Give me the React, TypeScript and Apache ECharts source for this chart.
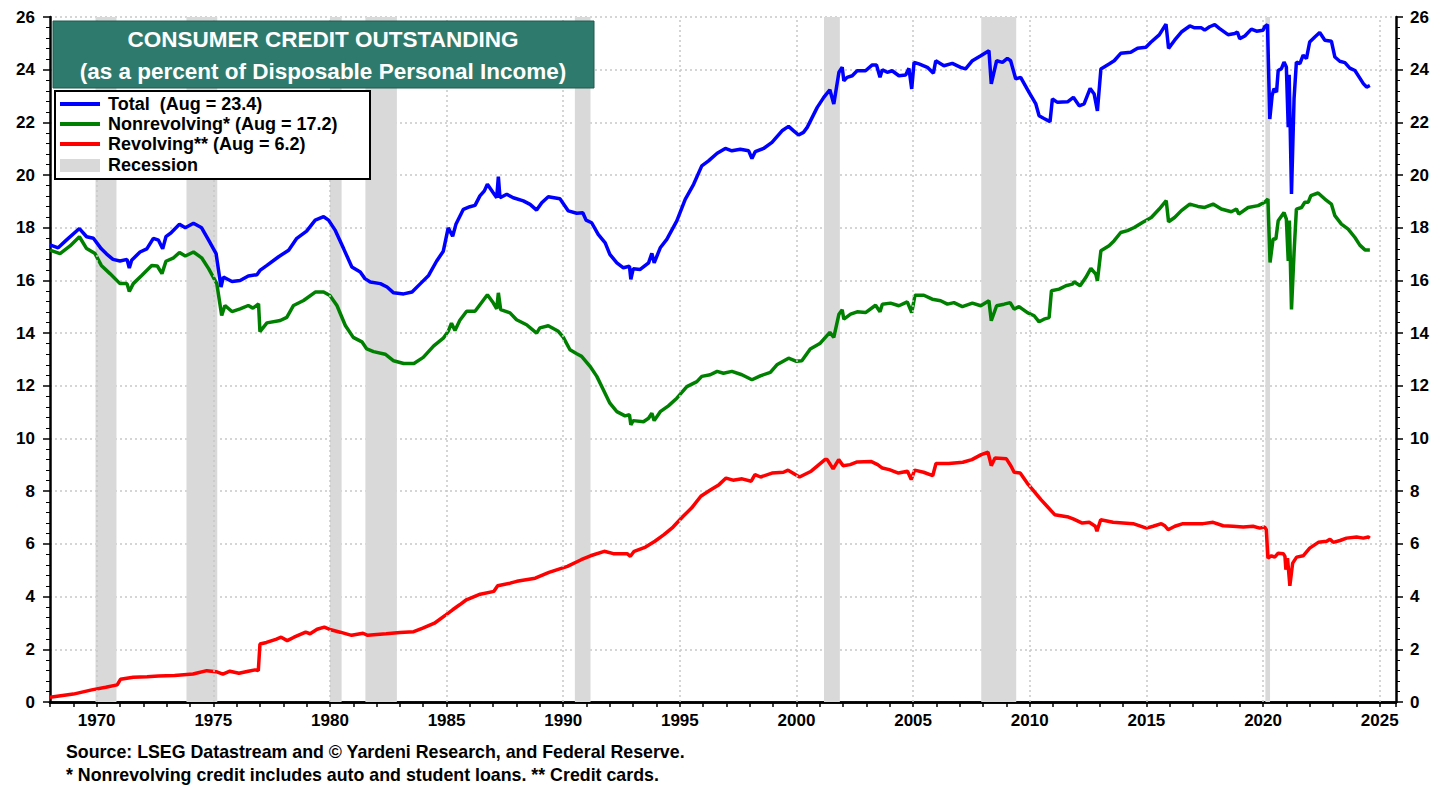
import React, { useEffect, useRef } from "react";
import * as echarts from "echarts";

// ---- Data (year as decimal, percent of disposable personal income) ----
const TOTAL: [number, number][] = [
  [1968.0,17.35],[1968.35,17.24],[1968.7,17.53],[1969.26,17.97],[1969.57,17.66],[1969.86,17.6],[1970.2,17.2],[1970.43,17.0],[1970.7,16.8],[1971.0,16.74],[1971.3,16.8],[1971.4,16.47],[1971.5,16.77],[1971.86,17.08],[1972.15,17.2],[1972.43,17.6],[1972.65,17.53],[1972.83,17.2],[1972.97,17.66],[1973.2,17.82],[1973.55,18.13],[1973.8,18.0],[1974.15,18.17],[1974.5,18.0],[1974.8,17.53],[1975.12,17.02],[1975.33,15.75],[1975.43,16.13],[1975.8,15.96],[1976.15,16.0],[1976.5,16.17],[1976.87,16.22],[1977.0,16.38],[1977.3,16.57],[1977.8,16.9],[1978.23,17.15],[1978.58,17.6],[1979.0,17.87],[1979.37,18.29],[1979.73,18.42],[1979.94,18.29],[1980.23,17.9],[1980.59,17.2],[1980.94,16.51],[1981.3,16.32],[1981.5,16.07],[1981.73,15.94],[1982.16,15.88],[1982.45,15.75],[1982.73,15.53],[1983.16,15.49],[1983.52,15.56],[1983.88,15.88],[1984.23,16.19],[1984.57,16.73],[1984.86,17.11],[1985.07,18.0],[1985.26,17.68],[1985.4,18.13],[1985.72,18.7],[1986.0,18.8],[1986.22,18.85],[1986.43,19.21],[1986.62,19.4],[1986.75,19.65],[1987.0,19.33],[1987.15,19.14],[1987.22,19.94],[1987.29,19.14],[1987.58,19.27],[1987.86,19.14],[1988.29,19.02],[1988.58,18.89],[1988.86,18.67],[1989.08,18.95],[1989.36,19.18],[1989.86,19.1],[1990.22,18.64],[1990.58,18.55],[1990.84,18.57],[1990.98,18.29],[1991.22,18.19],[1991.5,17.75],[1991.8,17.43],[1992.0,16.99],[1992.3,16.67],[1992.58,16.48],[1992.84,16.54],[1992.9,16.04],[1993.0,16.44],[1993.3,16.42],[1993.66,16.67],[1993.8,17.03],[1993.9,16.67],[1994.16,17.24],[1994.44,17.56],[1994.87,18.26],[1995.23,19.08],[1995.59,19.65],[1995.94,20.35],[1996.23,20.54],[1996.6,20.83],[1996.95,21.01],[1997.23,20.92],[1997.59,20.98],[1997.95,20.92],[1998.09,20.63],[1998.23,20.89],[1998.59,21.01],[1998.95,21.24],[1999.38,21.68],[1999.66,21.85],[1999.88,21.68],[2000.09,21.52],[2000.3,21.62],[2000.46,21.81],[2000.89,22.57],[2001.17,22.95],[2001.43,23.24],[2001.6,22.7],[2001.82,23.9],[2001.96,24.09],[2002.03,23.58],[2002.17,23.71],[2002.39,23.77],[2002.6,23.96],[2002.96,23.96],[2003.25,24.18],[2003.43,24.18],[2003.58,23.71],[2003.68,24.0],[2003.89,23.9],[2004.1,23.96],[2004.39,23.77],[2004.68,23.8],[2004.82,24.05],[2004.94,23.27],[2005.04,24.28],[2005.25,24.22],[2005.61,24.09],[2005.87,23.87],[2005.97,24.34],[2006.32,24.15],[2006.68,24.24],[2007.04,24.09],[2007.25,24.03],[2007.54,24.34],[2007.9,24.53],[2008.25,24.72],[2008.35,23.46],[2008.58,24.34],[2008.83,24.28],[2009.04,24.43],[2009.18,24.34],[2009.4,23.65],[2009.61,23.71],[2009.97,23.14],[2010.26,22.7],[2010.4,22.25],[2010.61,22.15],[2010.87,22.03],[2010.97,22.89],[2011.19,22.76],[2011.62,22.78],[2011.87,22.95],[2012.12,22.63],[2012.33,22.7],[2012.59,23.29],[2012.76,23.08],[2012.9,22.44],[2013.05,24.03],[2013.4,24.22],[2013.62,24.34],[2013.9,24.62],[2014.33,24.66],[2014.62,24.81],[2014.98,24.85],[2015.19,25.04],[2015.55,25.32],[2015.84,25.73],[2015.95,24.81],[2016.21,25.12],[2016.5,25.43],[2016.86,25.66],[2017.07,25.59],[2017.36,25.59],[2017.5,25.5],[2017.71,25.63],[2017.93,25.71],[2018.14,25.56],[2018.5,25.33],[2018.79,25.37],[2018.9,25.43],[2019.0,25.18],[2019.22,25.28],[2019.5,25.54],[2019.72,25.46],[2020.0,25.5],[2020.07,25.63],[2020.19,25.71],[2020.29,22.13],[2020.39,23.02],[2020.47,23.28],[2020.58,23.15],[2020.65,23.97],[2020.79,24.04],[2020.9,24.29],[2021.0,24.1],[2021.08,21.82],[2021.12,23.81],[2021.22,19.28],[2021.33,22.9],[2021.43,24.29],[2021.58,24.23],[2021.72,24.55],[2021.86,24.42],[2022.0,25.05],[2022.22,25.24],[2022.43,25.41],[2022.65,25.12],[2022.93,25.08],[2023.08,24.48],[2023.29,24.32],[2023.51,24.27],[2023.72,24.06],[2023.94,23.97],[2024.15,23.68],[2024.3,23.47],[2024.44,23.34],[2024.58,23.4]
];

const NONREVOLVING: [number, number][] = [
  [1968.0,17.15],[1968.43,17.02],[1968.86,17.31],[1969.26,17.66],[1969.57,17.21],[1969.93,17.02],[1970.2,16.57],[1970.57,16.26],[1971.0,15.88],[1971.3,15.88],[1971.4,15.58],[1971.57,15.88],[1971.93,16.19],[1972.36,16.57],[1972.6,16.55],[1972.8,16.26],[1972.97,16.73],[1973.3,16.86],[1973.55,17.06],[1973.8,16.93],[1974.15,17.08],[1974.5,16.86],[1974.8,16.45],[1975.15,15.88],[1975.36,14.67],[1975.5,15.05],[1975.8,14.82],[1976.15,14.92],[1976.5,15.05],[1976.7,14.95],[1976.94,15.11],[1977.0,14.06],[1977.3,14.39],[1977.87,14.48],[1978.15,14.6],[1978.44,15.05],[1978.87,15.24],[1979.37,15.56],[1979.73,15.56],[1980.0,15.43],[1980.3,15.05],[1980.66,14.29],[1981.0,13.84],[1981.37,13.67],[1981.58,13.4],[1981.87,13.3],[1982.37,13.2],[1982.73,12.95],[1983.16,12.85],[1983.6,12.85],[1984.0,13.08],[1984.45,13.52],[1984.86,13.81],[1985.07,14.07],[1985.21,14.38],[1985.36,14.1],[1985.57,14.49],[1985.86,14.83],[1986.22,14.83],[1986.43,15.08],[1986.75,15.46],[1987.0,15.15],[1987.15,14.92],[1987.22,15.53],[1987.32,14.89],[1987.72,14.77],[1988.0,14.51],[1988.43,14.32],[1988.86,14.0],[1989.0,14.2],[1989.36,14.28],[1989.79,14.07],[1990.0,13.85],[1990.29,13.37],[1990.58,13.22],[1990.79,13.12],[1991.15,12.74],[1991.44,12.36],[1991.72,11.85],[1992.0,11.34],[1992.3,11.02],[1992.65,10.86],[1992.84,10.9],[1992.9,10.52],[1993.0,10.68],[1993.44,10.64],[1993.66,10.77],[1993.8,10.96],[1993.9,10.68],[1994.16,11.02],[1994.51,11.24],[1994.87,11.53],[1995.3,11.97],[1995.73,12.16],[1995.94,12.36],[1996.3,12.42],[1996.6,12.55],[1996.87,12.48],[1997.23,12.55],[1997.66,12.42],[1998.09,12.23],[1998.45,12.38],[1998.88,12.51],[1999.16,12.8],[1999.66,13.05],[2000.0,12.93],[2000.23,12.95],[2000.59,13.4],[2001.02,13.62],[2001.43,14.03],[2001.6,13.84],[2001.82,14.72],[2001.96,14.89],[2002.03,14.53],[2002.32,14.72],[2002.6,14.81],[2002.96,14.78],[2003.39,15.06],[2003.58,14.81],[2003.68,15.1],[2004.03,15.14],[2004.39,15.04],[2004.75,15.19],[2004.94,14.78],[2005.08,15.44],[2005.46,15.44],[2005.82,15.29],[2006.18,15.23],[2006.47,15.1],[2006.75,15.16],[2007.11,15.01],[2007.54,15.14],[2007.9,15.04],[2008.25,15.23],[2008.35,14.47],[2008.58,15.04],[2008.9,15.1],[2009.16,15.16],[2009.33,14.91],[2009.54,15.01],[2009.9,14.78],[2010.19,14.66],[2010.4,14.43],[2010.61,14.53],[2010.83,14.59],[2010.93,15.61],[2011.26,15.67],[2011.55,15.8],[2011.83,15.86],[2011.9,15.95],[2012.16,15.8],[2012.4,16.11],[2012.62,16.46],[2012.83,16.24],[2012.9,15.99],[2013.05,17.13],[2013.4,17.32],[2013.62,17.51],[2013.9,17.82],[2014.19,17.89],[2014.48,18.01],[2014.83,18.2],[2015.21,18.39],[2015.55,18.71],[2015.85,19.03],[2015.95,18.23],[2016.21,18.39],[2016.5,18.65],[2016.86,18.9],[2017.21,18.81],[2017.5,18.77],[2017.86,18.9],[2018.21,18.71],[2018.64,18.61],[2018.86,18.71],[2018.96,18.52],[2019.36,18.77],[2019.79,18.84],[2020.07,18.97],[2020.21,19.09],[2020.3,16.68],[2020.43,17.57],[2020.55,17.57],[2020.65,18.27],[2020.9,18.58],[2021.0,18.33],[2021.08,16.74],[2021.13,18.27],[2021.22,14.9],[2021.33,17.06],[2021.43,18.71],[2021.65,18.77],[2021.79,18.97],[2021.94,18.97],[2022.05,19.22],[2022.36,19.32],[2022.65,19.09],[2022.93,18.9],[2023.08,18.46],[2023.36,18.14],[2023.65,17.95],[2023.94,17.63],[2024.15,17.34],[2024.37,17.16],[2024.58,17.16]
];

const REVOLVING: [number, number][] = [
  [1968.0,0.18],[1969.0,0.30],[1969.79,0.46],[1970.39,0.56],[1970.88,0.65],[1971.02,0.86],[1971.57,0.94],[1972.16,0.96],[1972.65,0.99],[1973.34,1.01],[1974.13,1.06],[1974.72,1.19],[1975.12,1.15],[1975.41,1.06],[1975.71,1.17],[1976.1,1.09],[1976.5,1.17],[1976.79,1.22],[1976.93,1.19],[1977.0,2.2],[1977.28,2.26],[1977.68,2.38],[1977.91,2.46],[1978.17,2.33],[1978.46,2.46],[1978.96,2.65],[1979.15,2.59],[1979.45,2.76],[1979.76,2.84],[1980.04,2.74],[1980.44,2.65],[1980.93,2.53],[1981.42,2.61],[1981.62,2.53],[1982.41,2.59],[1983.0,2.64],[1983.59,2.67],[1983.98,2.8],[1984.48,2.99],[1984.97,3.31],[1985.26,3.5],[1985.56,3.69],[1985.85,3.88],[1986.44,4.09],[1987.03,4.2],[1987.19,4.41],[1987.72,4.51],[1988.01,4.58],[1988.8,4.7],[1989.39,4.92],[1990.18,5.15],[1990.77,5.4],[1991.17,5.55],[1991.76,5.72],[1992.15,5.63],[1992.74,5.63],[1992.88,5.53],[1993.04,5.72],[1993.53,5.88],[1993.93,6.1],[1994.32,6.35],[1994.71,6.64],[1995.11,7.02],[1995.5,7.36],[1995.9,7.81],[1996.29,8.04],[1996.68,8.25],[1996.98,8.5],[1997.28,8.42],[1997.67,8.47],[1998.06,8.38],[1998.22,8.63],[1998.46,8.54],[1998.95,8.69],[1999.44,8.72],[1999.64,8.8],[2000.13,8.54],[2000.63,8.76],[2001.22,9.2],[2001.32,9.2],[2001.57,8.85],[2001.81,9.2],[2002.0,8.97],[2002.3,9.01],[2002.6,9.11],[2003.19,9.13],[2003.48,9.01],[2003.68,8.88],[2003.98,8.82],[2004.37,8.69],[2004.76,8.76],[2004.92,8.44],[2005.06,8.8],[2005.45,8.72],[2005.84,8.59],[2005.98,9.05],[2006.53,9.05],[2007.13,9.1],[2007.52,9.2],[2007.92,9.39],[2008.21,9.48],[2008.35,8.97],[2008.51,9.26],[2009.0,9.23],[2009.2,8.95],[2009.33,8.72],[2009.59,8.69],[2009.89,8.31],[2010.48,7.68],[2010.77,7.4],[2011.07,7.11],[2011.66,7.02],[2011.86,6.95],[2012.25,6.79],[2012.55,6.82],[2012.81,6.67],[2012.88,6.48],[2013.04,6.92],[2013.57,6.82],[2014.43,6.77],[2015.0,6.6],[2015.29,6.67],[2015.64,6.77],[2015.79,6.69],[2015.93,6.54],[2016.22,6.67],[2016.57,6.77],[2017.0,6.77],[2017.43,6.77],[2017.86,6.82],[2018.29,6.69],[2018.71,6.67],[2019.15,6.64],[2019.57,6.67],[2019.86,6.6],[2020.07,6.64],[2020.14,6.54],[2020.21,5.46],[2020.36,5.55],[2020.5,5.5],[2020.65,5.65],[2020.87,5.63],[2020.94,5.53],[2020.98,5.02],[2021.05,5.46],[2021.15,4.41],[2021.27,5.27],[2021.44,5.5],[2021.72,5.55],[2022.0,5.84],[2022.37,6.06],[2022.73,6.1],[2022.87,6.18],[2023.01,6.06],[2023.3,6.13],[2023.58,6.22],[2024.01,6.26],[2024.3,6.22],[2024.51,6.26],[2024.58,6.22]
];

const RECESSIONS: [number, number][] = [
  [1969.95, 1970.85], [1973.85, 1975.17], [1980.0, 1980.5], [1981.52, 1982.87],
  [1990.5, 1991.17], [2001.18, 2001.86], [2007.92, 2009.42], [2020.1, 2020.3],
];

const X_GRID_YEARS = [1970, 1975, 1980, 1985, 1990, 1995, 2000, 2005, 2010, 2015, 2020, 2025];

const TITLE_LINES = ["CONSUMER CREDIT OUTSTANDING", "(as a percent of Disposable Personal Income)"];
const LEGEND_LABELS = ["Total  (Aug = 23.4)", "Nonrevolving* (Aug = 17.2)", "Revolving** (Aug = 6.2)", "Recession"];
const FOOTNOTES = [
  "Source: LSEG Datastream and \u00A9 Yardeni Research, and Federal Reserve.",
  "* Nonrevolving credit includes auto and student loans. ** Credit cards.",
];

const FONT = "'Liberation Sans', Arial, Helvetica, sans-serif";
const COLORS = ["#0000ff", "#008000", "#ff0000"];

export default function App() {
  const ref = useRef<HTMLDivElement>(null);

  useEffect(() => {
    document.body.style.margin = "0";
    if (!ref.current) return;
    const chart = echarts.init(ref.current, undefined, { renderer: "svg" });

    const axisLabelStyle = { color: "#000", fontWeight: "bold" as const, fontSize: 17, fontFamily: FONT };
    const yCommon = {
      type: "value" as const,
      min: 0,
      max: 26,
      interval: 2,
      axisLine: { show: true, lineStyle: { color: "#000", width: 2.5 } },
      axisTick: { show: true, inside: false, length: 7, lineStyle: { color: "#000", width: 1.5 } },
      minorTick: { show: true, splitNumber: 5, length: 4, lineStyle: { color: "#000", width: 1 } },
    };

    const legendY = [104, 124, 144];
    const legendTextY = [104, 124, 144, 165];

    chart.setOption({
      animation: false,
      backgroundColor: "#fff",
      textStyle: { fontFamily: FONT },
      grid: { left: 50, right: 53, top: 17, bottom: 85, containLabel: false },
      xAxis: [
        {
          type: "value",
          min: 1968,
          max: 2025.7,
          interval: 1,
          axisLine: { show: true, lineStyle: { color: "#000", width: 2.5 } },
          axisTick: { show: true, length: 5, lineStyle: { color: "#000", width: 1.5 } },
          axisLabel: {
            ...axisLabelStyle,
            margin: 10,
            formatter: (v: number) => {
              const r = Math.round(v);
              return Math.abs(v - r) < 1e-6 && r % 5 === 0 ? String(r) : "";
            },
          },
          splitLine: { show: false },
        },
        {
          type: "value",
          position: "top",
          min: 1968,
          max: 2025.7,
          axisLine: { show: true, lineStyle: { color: "#000", width: 2.5 } },
          axisTick: { show: false },
          axisLabel: { show: false },
          splitLine: { show: false },
        },
      ],
      yAxis: [
        {
          ...yCommon,
          position: "left",
          axisLabel: { ...axisLabelStyle, margin: 15 },
          splitLine: { show: true, lineStyle: { color: "#c8c8c8", width: 1.5, type: [2, 3] } },
        },
        {
          ...yCommon,
          position: "right",
          axisLabel: { ...axisLabelStyle, margin: 14 },
          splitLine: { show: false },
        },
      ],
      series: [
        {
          name: "Recession",
          type: "line",
          data: [],
          z: 1,
          silent: true,
          markArea: {
            silent: true,
            itemStyle: { color: "#d9d9d9" },
            data: RECESSIONS.map(([a, b]) => [{ xAxis: a }, { xAxis: b }]),
          },
          markLine: {
            silent: true,
            symbol: "none",
            label: { show: false },
            lineStyle: { color: "#c8c8c8", width: 1.5, type: [2, 3] },
            data: X_GRID_YEARS.map((y) => ({ xAxis: y })),
          },
        },
        {
          name: LEGEND_LABELS[0],
          type: "line",
          data: TOTAL,
          showSymbol: false,
          z: 5,
          lineStyle: { color: COLORS[0], width: 3.5 },
          itemStyle: { color: COLORS[0] },
        },
        {
          name: LEGEND_LABELS[1],
          type: "line",
          data: NONREVOLVING,
          showSymbol: false,
          z: 4,
          lineStyle: { color: COLORS[1], width: 3.5 },
          itemStyle: { color: COLORS[1] },
        },
        {
          name: LEGEND_LABELS[2],
          type: "line",
          data: REVOLVING,
          showSymbol: false,
          z: 4,
          lineStyle: { color: COLORS[2], width: 3.5 },
          itemStyle: { color: COLORS[2] },
        },
      ],
      graphic: [
        {
          type: "rect",
          z: 100,
          shape: { x: 53, y: 21, width: 541, height: 67 },
          style: { fill: "#2e7b6d", stroke: "#1f5a4f", lineWidth: 1 },
        },
        ...TITLE_LINES.map((t, i) => ({
          type: "text",
          z: 101,
          x: 323,
          y: i === 0 ? 39 : 71,
          style: {
            text: t,
            fill: "#fff",
            font: `bold 22.5px ${FONT}`,
            align: "center",
            verticalAlign: "middle",
          },
        })),
        {
          type: "rect",
          z: 100,
          shape: { x: 55, y: 91, width: 315, height: 88 },
          style: { fill: "#fff", stroke: "#000", lineWidth: 2 },
        },
        ...legendY.map((y, i) => ({
          type: "line",
          z: 101,
          shape: { x1: 60, y1: y, x2: 100, y2: y },
          style: { stroke: COLORS[i], lineWidth: 4 },
        })),
        {
          type: "rect",
          z: 101,
          shape: { x: 60, y: 159, width: 40, height: 13 },
          style: { fill: "#d9d9d9" },
        },
        ...LEGEND_LABELS.map((t, i) => ({
          type: "text",
          z: 101,
          x: 108,
          y: legendTextY[i],
          style: {
            text: t,
            fill: "#000",
            font: `bold 18px ${FONT}`,
            align: "left",
            verticalAlign: "middle",
          },
        })),
        ...FOOTNOTES.map((t, i) => ({
          type: "text",
          z: 101,
          x: 66,
          y: i === 0 ? 752 : 775,
          style: {
            text: t,
            fill: "#000",
            font: `bold 17.8px ${FONT}`,
            align: "left",
            verticalAlign: "middle",
          },
        })),
      ],
    });

    return () => chart.dispose();
  }, []);

  return <div ref={ref} style={{ width: 1449, height: 787 }} />;
}
